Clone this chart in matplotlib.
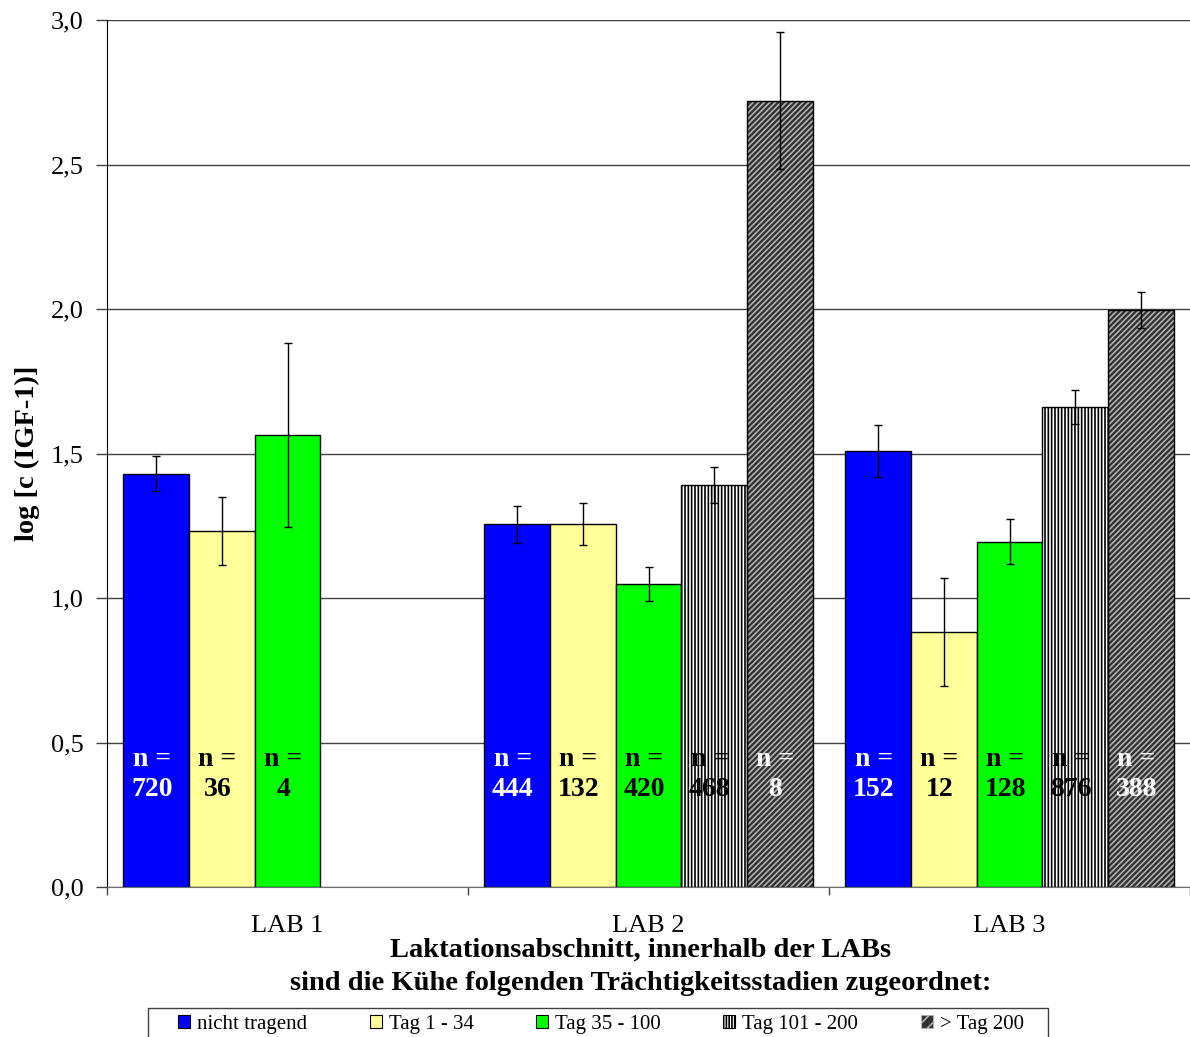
import numpy as np
import matplotlib
matplotlib.use('Agg')
import matplotlib.pyplot as plt
from matplotlib.patches import Patch, Rectangle

plt.rcParams['font.family'] = ['Liberation Serif', 'DejaVu Serif']
plt.rcParams['hatch.linewidth'] = 1.2

# data
labs = ['LAB 1', 'LAB 2', 'LAB 3']
groups = ['nicht tragend', 'Tag 1 - 34', 'Tag 35 - 100', 'Tag 101 - 200', '> Tag 200']

nicht_tragend = [1.43, 1.255, 1.51]
tag_1_34 = [1.232, 1.256, 0.882]
tag_35_100 = [1.564, 1.048, 1.195]
tag_101_200 = [np.nan, 1.391, 1.661]
tag_200 = [np.nan, 2.72, 1.997]

err_nicht = [0.06, 0.065, 0.09]
err_1_34 = [0.118, 0.073, 0.187]
err_35_100 = [0.318, 0.06, 0.078]
err_101_200 = [np.nan, 0.062, 0.059]
err_200 = [np.nan, 0.237, 0.062]

n_nicht = ['720', '444', '152']
n_1_34 = ['36', '132', '12']
n_35_100 = ['4', '420', '128']
n_101_200 = ['', '468', '876']
n_200 = ['', '8', '388']

values = [nicht_tragend, tag_1_34, tag_35_100, tag_101_200, tag_200]
errors = [err_nicht, err_1_34, err_35_100, err_101_200, err_200]
counts = [n_nicht, n_1_34, n_35_100, n_101_200, n_200]

faces = ['#0000ff', '#ffff99', '#00ff00', 'white', '#303030']
hatches = [None, None, None, '|||||', '//////']
hatch_cols = [None, None, None, 'black', '#b0b0b0']
txt_cols = ['white', 'black', 'black', 'black', 'white']

fig = plt.figure(figsize=(11.9, 10.37), dpi=100)
ax = fig.add_axes([107/1190, 1-887/1037, 1-107/1190, (887-20)/1037])

x = np.arange(len(labs))
w = 1/5.5
for i in range(5):
    pos = x + (i-2)*w
    v = np.array(values[i], dtype=float)
    ok = ~np.isnan(v)
    if hatches[i]:
        ax.bar(pos[ok], v[ok], w, color=faces[i], hatch=hatches[i],
               edgecolor=hatch_cols[i], linewidth=0, zorder=2)
        ax.bar(pos[ok], v[ok], w, fill=False, edgecolor='black', linewidth=1, zorder=3)
    else:
        ax.bar(pos[ok], v[ok], w, color=faces[i], edgecolor='black', linewidth=1, zorder=2)
    ax.errorbar(pos[ok], v[ok], yerr=np.array(errors[i])[ok], fmt='none',
                ecolor='black', elinewidth=1, capsize=3, capthick=1, zorder=4)
    for j in range(len(labs)):
        if ok[j]:
            ax.text(pos[j] - 0.012, 0.44, 'n =', ha='center', va='center', color=txt_cols[i],
                    fontsize=20, fontweight='bold', zorder=5)
            ax.text(pos[j] - 0.012, 0.337, counts[i][j], ha='center', va='center', color=txt_cols[i],
                    fontsize=20, fontweight='bold', zorder=5)

ax.set_xlim(-0.5, 2.5)
ax.set_ylim(0, 3.0)
ax.set_yticks(np.arange(0, 3.01, 0.5))
ax.set_yticklabels([f'{t:.1f}'.replace('.', ',') for t in np.arange(0, 3.01, 0.5)], fontsize=19)
ax.yaxis.grid(True, color='#404040', linewidth=1)
ax.set_axisbelow(True)
ax.tick_params(axis='y', length=8, width=1, pad=9, color='#404040')

ax.set_xticks(x)
ax.set_xticklabels(labs, fontsize=19)
ax.set_xticks([-0.5, 0.5, 1.5, 2.5], minor=True)
ax.tick_params(axis='x', which='major', length=0, pad=20)
ax.tick_params(axis='x', which='minor', length=6, width=1, color='#404040')

for s in ['top', 'right']:
    ax.spines[s].set_visible(False)
ax.spines['bottom'].set_color('#707070')
ax.spines['left'].set_color('black')

ax.set_ylabel('log [c (IGF-1)]', fontsize=20.5, fontweight='bold')
ax.yaxis.set_label_coords(-0.062, 0.5)

fig.text(641/1190, 1-950/1037, 'Laktationsabschnitt, innerhalb der LABs', ha='center', va='center',
         fontsize=20.5, fontweight='bold')
fig.text(641/1190, 1-983/1037, 'sind die Kühe folgenden Trächtigkeitsstadien zugeordnet:', ha='center',
         va='center', fontsize=20.5, fontweight='bold')

handles = []
for i in range(5):
    if hatches[i]:
        handles.append(Patch(facecolor=faces[i], hatch=hatches[i] + '|' if i == 3 else hatches[i][:3],
                             edgecolor=hatch_cols[i] if i == 4 else 'black', linewidth=0.8))
    else:
        handles.append(Patch(facecolor=faces[i], edgecolor='black', linewidth=0.8))
leg = fig.legend(handles, groups, loc='center left', ncol=5,
                 bbox_to_anchor=(178/1190, 1-1024/1037), borderaxespad=0, borderpad=0,
                 fontsize=15, frameon=False, handlelength=0.58, handleheight=0.58,
                 handletextpad=0.33, columnspacing=3.0)
fig.add_artist(Rectangle((148/1190, -0.02), 900/1190, 0.02 + 29/1037, transform=fig.transFigure,
                         fill=False, edgecolor='#404040', linewidth=1))

fig.savefig('out.png', dpi=100)
